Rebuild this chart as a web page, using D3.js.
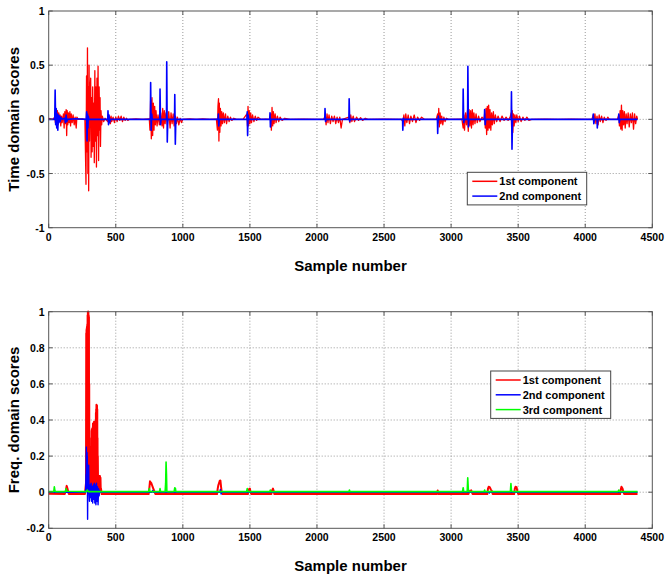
<!DOCTYPE html>
<html>
<head>
<meta charset="utf-8">
<script src="https://cdn.jsdelivr.net/npm/d3@7"></script>
<style>
  body { margin: 0; background: #fff; }
  text { font-family: "Liberation Sans", Arial, sans-serif; font-weight: bold; }
</style>
</head>
<body>
<div id="chart"></div>
<script>
// x ticks shared by both panels
var xTicks = [0, 500, 1000, 1500, 2000, 2500, 3000, 3500, 4000, 4500];

// top panel: time domain scores
var timeTicks = [-1, -0.5, 0, 0.5, 1];
var timeTickLabels = ["-1", "-0.5", "0", "0.5", "1"];

var timeRed = [[0,0.01],[30,0],[45,0.02],[50,-0.03],[55,0.05],[60,-0.04],[65,0.08],[70,-0.05],[75,0.06],[80,-0.02],[85,0.04],[90,-0.06],[95,0.03],[100,-0.03],[110,0.05],[115,-0.08],[120,0.07],[125,-0.04],[130,0.09],[134,-0.15],[138,0.08],[142,-0.05],[147,0.06],[152,-0.03],[158,0.07],[163,-0.06],[168,0.05],[175,-0.03],[182,0.04],[190,-0.05],[197,0.02],[205,-0.08],[210,0.02],[220,0],[250,0.005],[270,0],
  [278,-0.6],[282,0.4],[286,-0.3],[289,0.66],[292,-0.5],[295,0.3],[298,-0.66],[301,0.5],[304,-0.2],[308,0.25],[313,0.38],[316,-0.35],[320,0.2],[324,-0.3],[328,0.3],[332,-0.25],[336,0.15],[340,-0.4],[344,0.45],[348,-0.2],[352,0.3],[356,-0.44],[360,0.38],[364,-0.15],[368,0.49],[372,-0.38],[376,0.3],[380,-0.1],[383,0.2],[386,-0.25],[390,0.08],[395,-0.05],[400,0.03],[410,-0.02],[420,0.01],
  [440,-0.02],[445,0.03],[450,-0.03],[455,0.02],[460,-0.04],[465,0.03],[470,-0.02],[480,0.02],[490,-0.03],[500,0.02],[510,-0.02],[520,0.03],[530,-0.01],[540,0.03],[550,-0.02],[560,0.02],[570,-0.01],[580,0.01],[590,-0.01],[600,0],[650,0.005],[700,0],[750,0.005],
  [755,-0.1],[760,0.18],[765,-0.18],[770,0.2],[775,-0.15],[780,0.15],[785,-0.1],[790,0.12],[795,-0.05],[800,0.08],[808,-0.06],[815,0.04],[825,-0.05],[835,0.06],[845,-0.06],[850,0.1],[856,-0.08],[862,0.08],[868,-0.04],[875,0.06],[885,-0.05],[895,0.07],[905,-0.08],[912,0.06],[920,-0.04],[928,0.05],[935,-0.06],[945,0.03],[952,-0.04],[960,0.02],[970,-0.05],[980,0.01],[990,-0.03],[1000,0],[1050,0.005],[1100,0],[1150,0.005],[1200,0],[1250,0.003],
  [1258,-0.1],[1262,0.12],[1266,0.19],[1269,-0.2],[1272,0.15],[1276,-0.12],[1280,0.1],[1285,-0.06],[1290,0.07],[1296,-0.04],[1302,0.06],[1310,-0.03],[1318,0.05],[1326,-0.04],[1335,0.03],[1345,-0.02],[1355,0.02],[1365,-0.01],[1380,0.01],[1400,0],[1450,0.003],
  [1478,0.05],[1482,-0.06],[1486,0.12],[1490,-0.06],[1495,0.08],[1500,-0.04],[1506,0.06],[1512,-0.03],[1520,0.04],[1530,-0.02],[1540,0.03],[1550,-0.01],[1560,0.02],[1580,0],[1620,0.003],[1645,0],
  [1655,0.05],[1660,-0.1],[1665,0.11],[1670,-0.06],[1675,0.07],[1680,-0.04],[1688,0.05],[1695,-0.03],[1705,0.03],[1715,-0.02],[1725,0.02],[1740,-0.01],[1760,0.01],[1800,0],[1900,0.003],[2000,0],[2050,0.002],
  [2062,0.03],[2068,-0.05],[2075,0.05],[2082,-0.03],[2090,0.04],[2100,-0.04],[2110,0.03],[2120,-0.02],[2130,0.03],[2140,-0.04],[2150,0.02],[2160,-0.03],[2170,0.02],[2180,-0.08],[2190,0],
  [2238,0.02],[2245,-0.03],[2252,0.04],[2260,-0.02],[2270,0.03],[2280,-0.02],[2295,0.02],[2310,-0.01],[2325,0.015],[2340,-0.01],[2360,0.01],[2380,0],[2500,0.002],[2630,0],
  [2640,-0.02],[2648,0.04],[2655,-0.06],[2662,0.05],[2670,-0.03],[2680,0.04],[2690,-0.04],[2700,0.03],[2712,-0.02],[2725,0.04],[2738,-0.03],[2750,0.02],[2765,-0.01],[2780,0.02],[2800,0],[2890,0.003],
  [2900,0.05],[2904,-0.03],[2908,0.1],[2912,-0.07],[2918,0.06],[2924,-0.04],[2930,0.03],[2938,-0.05],[2946,0.02],[2955,-0.02],[2965,0.01],[2980,0],[3080,0.003],
  [3090,-0.08],[3095,0.04],[3100,-0.1],[3108,0.06],[3115,-0.05],[3122,0.08],[3128,-0.11],[3134,0.09],[3140,-0.06],[3146,0.08],[3152,-0.08],[3158,0.09],[3164,-0.05],[3170,0.06],[3178,-0.04],[3186,0.05],[3195,-0.03],[3205,0.03],[3215,-0.02],[3230,0.02],[3245,0],
  [3250,0.05],[3255,-0.08],[3260,0.1],[3265,-0.14],[3270,0.12],[3275,-0.1],[3280,0.13],[3285,-0.08],[3290,0.09],[3296,-0.1],[3302,0.06],[3308,-0.05],[3315,0.07],[3322,-0.04],[3330,0.04],[3340,-0.02],[3350,0.03],[3365,-0.02],[3380,0.03],[3395,-0.01],[3410,0.02],[3425,-0.01],[3440,0.02],
  [3448,0.06],[3452,-0.1],[3456,0.08],[3460,-0.12],[3465,0.05],[3470,-0.06],[3476,0.04],[3483,-0.03],[3490,0.04],[3500,-0.02],[3510,0.03],[3522,-0.02],[3535,0.02],[3550,-0.01],[3565,0.02],[3580,-0.01],[3600,0],[3700,0.003],[3800,0],[3900,0.003],[4000,0],[4050,0.002],
  [4060,0.04],[4066,-0.03],[4072,0.05],[4080,-0.04],[4088,0.03],[4096,-0.05],[4104,0.04],[4112,-0.02],[4122,0.03],[4132,-0.03],[4142,0.02],[4155,-0.01],[4168,0.02],[4180,0],[4240,0.002],
  [4250,0.04],[4255,-0.06],[4260,0.08],[4265,-0.09],[4270,0.13],[4275,-0.1],[4280,0.08],[4286,-0.05],[4292,0.07],[4298,-0.08],[4305,0.05],[4312,-0.04],[4320,0.06],[4328,-0.07],[4336,0.05],[4344,-0.03],[4352,0.06],[4360,-0.09],[4368,0.05],[4376,-0.04],[4384,0.03],[4390,0]];

var timeBlue = [[0,0],[45,0],[48,0.27],[52,-0.05],[56,0.1],[60,-0.08],[64,0.05],[68,-0.1],[72,0.04],[76,-0.03],[80,0.03],[85,-0.02],[90,0.02],[100,0],[120,0.01],[125,-0.03],[130,0.04],[135,-0.02],[140,0],[200,0.005],[280,0],
  [283,0.07],[286,-0.2],[289,0.05],[292,-0.08],[295,0.03],[300,0],[440,0],[442,0.08],[446,-0.05],[450,0.04],[454,-0.03],[460,0],
  [758,0],[760,0.34],[764,-0.1],[768,0.05],[772,0],[828,0],[830,0.28],[834,-0.05],[838,0],[878,0],[880,0.53],[884,-0.21],[888,0],[938,0],[940,0.23],[944,-0.23],[948,0],
  [1262,0],[1265,0.05],[1268,-0.06],[1272,0],[1478,0],[1480,0.07],[1483,-0.15],[1487,0.04],[1490,0],[1648,0],[1650,0.06],[1653,-0.07],[1657,0],
  [2058,0],[2060,0.1],[2064,-0.02],[2068,0],[2238,0],[2240,0.19],[2244,-0.02],[2248,0],[2638,0],[2640,-0.1],[2644,0.01],[2648,0],[2898,0],[2900,-0.13],[2904,0.03],[2908,0],
  [3088,0],[3090,0.28],[3094,-0.03],[3098,0],[3123,0],[3125,0.49],[3129,-0.07],[3133,0],[3248,0],[3250,0.09],[3254,-0.05],[3258,0],[3448,0],[3450,0.255],[3454,-0.275],[3458,0],
  [4058,0],[4060,0.05],[4064,-0.04],[4068,0],[4088,0],[4090,-0.08],[4094,0],[4248,0],[4250,0.05],[4254,-0.03],[4258,0],[4390,0]];

// bottom panel: frequency domain scores
var freqTicks = [-0.2, 0, 0.2, 0.4, 0.6, 0.8, 1];
var freqTickLabels = ["-0.2", "0", "0.2", "0.4", "0.6", "0.8", "1"];

var freqRed = [[0,-0.008],[120,-0.01],[128,0.01],[134,0.035],[140,0.02],[146,0],[150,-0.01],[270,-0.01],
  [278,0.05],[280,0.88],[281,0.02],[282,0.9],[283,0.05],[284,0.91],[285,0.1],[286,0.92],[287,0.04],[288,0.93],[289,0.2],[290,0.98],[291,0.05],[292,1.0],[293,0.3],[294,1.0],[295,0.1],[296,1.0],[297,0.2],[298,0.98],[299,0.05],[300,0.97],[301,0.1],[302,0.6],[303,0.02],[304,0.2],[306,0.02],[308,0.01],[312,0.1],[314,0.02],[316,0.25],[317,0.03],[318,0.3],[319,0.05],[320,0.34],[321,0.02],[322,0.35],[323,0.08],[324,0.34],[325,0.03],[326,0.33],[327,0.1],[328,0.36],[329,0.02],[330,0.38],[331,0.06],[332,0.37],[333,0.03],[334,0.35],[335,0.1],[336,0.38],[337,0.02],[338,0.39],[339,0.05],[340,0.38],[341,0.03],[342,0.37],[343,0.08],[344,0.39],[345,0.02],[346,0.39],[347,0.1],[348,0.33],[349,0.03],[350,0.3],[351,0.05],[352,0.44],[353,0.02],[354,0.46],[355,0.1],[356,0.485],[357,0.03],[358,0.48],[359,0.06],[360,0.48],[361,0.02],[362,0.46],[363,0.1],[364,0.3],[365,0.02],[366,0.2],[368,0.03],[370,0.05],[372,0.01],[374,0.09],[376,0.02],[378,0.09],[380,0.01],[382,0.09],[384,0.03],[386,0.08],[388,0.01],[390,0.02],[395,-0.01],
  [745,-0.01],[750,0.02],[755,0.06],[760,0.055],[765,0.05],[770,0.04],[775,0.03],[780,0.02],[785,0.01],[790,0],[795,-0.01],
  [1255,-0.01],[1260,0.02],[1265,0.04],[1270,0.05],[1275,0.063],[1280,0.065],[1285,0.03],[1290,0],[1295,-0.01],
  [1485,-0.01],[1490,0.015],[1500,0.02],[1505,0],[1510,-0.01],[1660,-0.01],[1665,0.01],[1672,0.02],[1678,0.005],[1682,-0.01],
  [2895,-0.01],[2900,0.01],[2905,-0.01],[3130,-0.01],[3135,0.005],[3150,0.01],[3160,-0.01],[3270,-0.01],[3275,0.02],[3280,0.03],[3288,0.028],[3296,0.015],[3305,0.005],[3310,-0.01],
  [3470,-0.01],[3475,0.02],[3480,0.03],[3488,0.028],[3494,0.005],[3500,-0.01],[4260,-0.01],[4265,0.015],[4270,0.03],[4278,0.02],[4285,0],[4290,-0.01],[4390,-0.01]];

var freqBlue = [[0,0],[275,0],[278,0.1],[279,0.01],[280,0.2],[281,0.25],[282,0.02],[283,0.22],[284,0.2],[285,0.01],[286,0.22],[287,0.05],[288,0.2],[290,-0.15],[292,0.1],[294,0.01],[295,0.12],[296,0.02],[298,0.15],[300,0.02],[304,-0.05],[308,0.04],[312,-0.03],[316,0.05],[320,-0.05],[324,0.03],[328,-0.06],[332,0.04],[336,-0.04],[340,0.05],[344,-0.06],[348,0.04],[352,-0.07],[356,0.05],[360,-0.05],[364,0.03],[368,-0.07],[372,0.02],[376,-0.02],[380,0.01],[385,0],
  [770,0],[775,0.01],[780,0],[1275,0],[1280,0.015],[1285,-0.01],[1290,0],[3280,0],[3285,-0.005],[3290,0],[4390,0]];

var freqGreen = [[0,0.003],[38,0.003],[42,0.03],[46,0.01],[50,0.003],[125,0.003],[130,0.02],[135,0.005],[280,0.003],[288,0.012],[295,0.003],
  [745,0.003],[750,0.02],[755,0.003],[826,0.003],[830,0.02],[834,0.003],[868,0.003],[872,0.05],[875,0.167],[878,0.1],[881,0.003],[935,0.003],[940,0.025],[945,0.02],[948,0.003],
  [1475,0.003],[1480,0.02],[1485,0.003],[1648,0.003],[1652,0.012],[1656,0.003],[2238,0.003],[2242,0.012],[2246,0.003],
  [3085,0.003],[3090,0.025],[3094,0.003],[3120,0.003],[3124,0.08],[3128,0.02],[3132,0.003],[3246,0.003],[3250,0.012],[3254,0.003],
  [3442,0.003],[3446,0.048],[3450,0.01],[3454,0.003],[4245,0.003],[4250,0.012],[4256,0.003],[4390,0.003]];

var legendTop = ["1st component", "2nd component"];
var legendBottom = ["1st component", "2nd component", "3rd component"];

var width = 667, height = 576;
var svg = d3.select("#chart").append("svg")
  .attr("width", width)
  .attr("height", height);

var x = d3.scaleLinear().domain([0, 4500]).range([48.7, 652.3]);

function drawPanel(top, bottom, yDomain, yTicks, yLabels, yTitle, series, legend) {
  var y = d3.scaleLinear().domain(yDomain).range([bottom, top]);
  var g = svg.append("g");

  // grid
  g.selectAll(".gx").data(xTicks.slice(1, -1)).enter().append("line")
    .attr("x1", function (d) { return x(d); }).attr("x2", function (d) { return x(d); })
    .attr("y1", top).attr("y2", bottom)
    .attr("stroke", "#999").attr("stroke-dasharray", "1,2");
  g.selectAll(".gy").data(yTicks.slice(1, -1)).enter().append("line")
    .attr("x1", x.range()[0]).attr("x2", x.range()[1])
    .attr("y1", function (d) { return y(d); }).attr("y2", function (d) { return y(d); })
    .attr("stroke", "#999").attr("stroke-dasharray", "1,2");

  // lines
  var line = d3.line()
    .x(function (d) { return x(d[0]); })
    .y(function (d) { return y(d[1]); });
  series.forEach(function (s) {
    g.append("path")
      .datum(s.data)
      .attr("fill", "none")
      .attr("stroke", s.color)
      .attr("stroke-width", s.width)
      .attr("stroke-linejoin", "round")
      .attr("d", line);
  });

  // box
  g.append("rect")
    .attr("x", x.range()[0]).attr("y", top)
    .attr("width", x.range()[1] - x.range()[0]).attr("height", bottom - top)
    .attr("fill", "none").attr("stroke", "#555");

  // inward ticks on all sides
  xTicks.forEach(function (t) {
    g.append("line").attr("x1", x(t)).attr("x2", x(t)).attr("y1", bottom).attr("y2", bottom - 4).attr("stroke", "#555");
    g.append("line").attr("x1", x(t)).attr("x2", x(t)).attr("y1", top).attr("y2", top + 4).attr("stroke", "#555");
  });
  yTicks.forEach(function (t) {
    g.append("line").attr("x1", x.range()[0]).attr("x2", x.range()[0] + 4).attr("y1", y(t)).attr("y2", y(t)).attr("stroke", "#555");
    g.append("line").attr("x1", x.range()[1]).attr("x2", x.range()[1] - 4).attr("y1", y(t)).attr("y2", y(t)).attr("stroke", "#555");
  });

  // tick labels
  g.selectAll(".xl").data(xTicks).enter().append("text")
    .attr("x", function (d) { return x(d); })
    .attr("y", bottom + 13)
    .attr("text-anchor", "middle")
    .style("font-size", "10.5px")
    .text(function (d) { return d; });
  g.selectAll(".yl").data(yTicks).enter().append("text")
    .attr("x", x.range()[0] - 4)
    .attr("y", function (d) { return y(d) + 4; })
    .attr("text-anchor", "end")
    .style("font-size", "10.5px")
    .text(function (d, i) { return yLabels[i]; });

  // axis titles
  g.append("text")
    .attr("x", (x.range()[0] + x.range()[1]) / 2)
    .attr("y", bottom + 43)
    .attr("text-anchor", "middle")
    .style("font-size", "15px")
    .text("Sample number");
  g.append("text")
    .attr("transform", "translate(19," + ((top + bottom) / 2) + ") rotate(-90)")
    .attr("text-anchor", "middle")
    .style("font-size", "15px")
    .text(yTitle);

  // legend
  var lg = g.append("g").attr("transform", "translate(" + legend.x + "," + legend.y + ")");
  lg.append("rect")
    .attr("width", legend.w).attr("height", legend.items.length * 14.8 + 3)
    .attr("fill", "#fff").attr("stroke", "#444");
  legend.items.forEach(function (name, i) {
    var ly = 9 + i * 14.8;
    lg.append("line").attr("x1", 5).attr("x2", 30).attr("y1", ly).attr("y2", ly)
      .attr("stroke", series[i].color).attr("stroke-width", 1.5);
    lg.append("text").attr("x", 32).attr("y", ly + 4)
      .style("font-size", "11px").text(name);
  });
}

drawPanel(11, 227.7, [-1, 1], timeTicks, timeTickLabels, "Time domain scores",
  [{ data: timeRed, color: "#ff0000", width: 1.3 },
   { data: timeBlue, color: "#0000ff", width: 1.6 }],
  { x: 467.3, y: 172.3, w: 119.4, items: legendTop });

drawPanel(311.7, 528.3, [-0.2, 1], freqTicks, freqTickLabels, "Freq. domain scores",
  [{ data: freqRed, color: "#ff0000", width: 2 },
   { data: freqBlue, color: "#0000ff", width: 1.4 },
   { data: freqGreen, color: "#00ff00", width: 1.6 }],
  { x: 490.7, y: 371, w: 120, items: legendBottom });
</script>
</body>
</html>
